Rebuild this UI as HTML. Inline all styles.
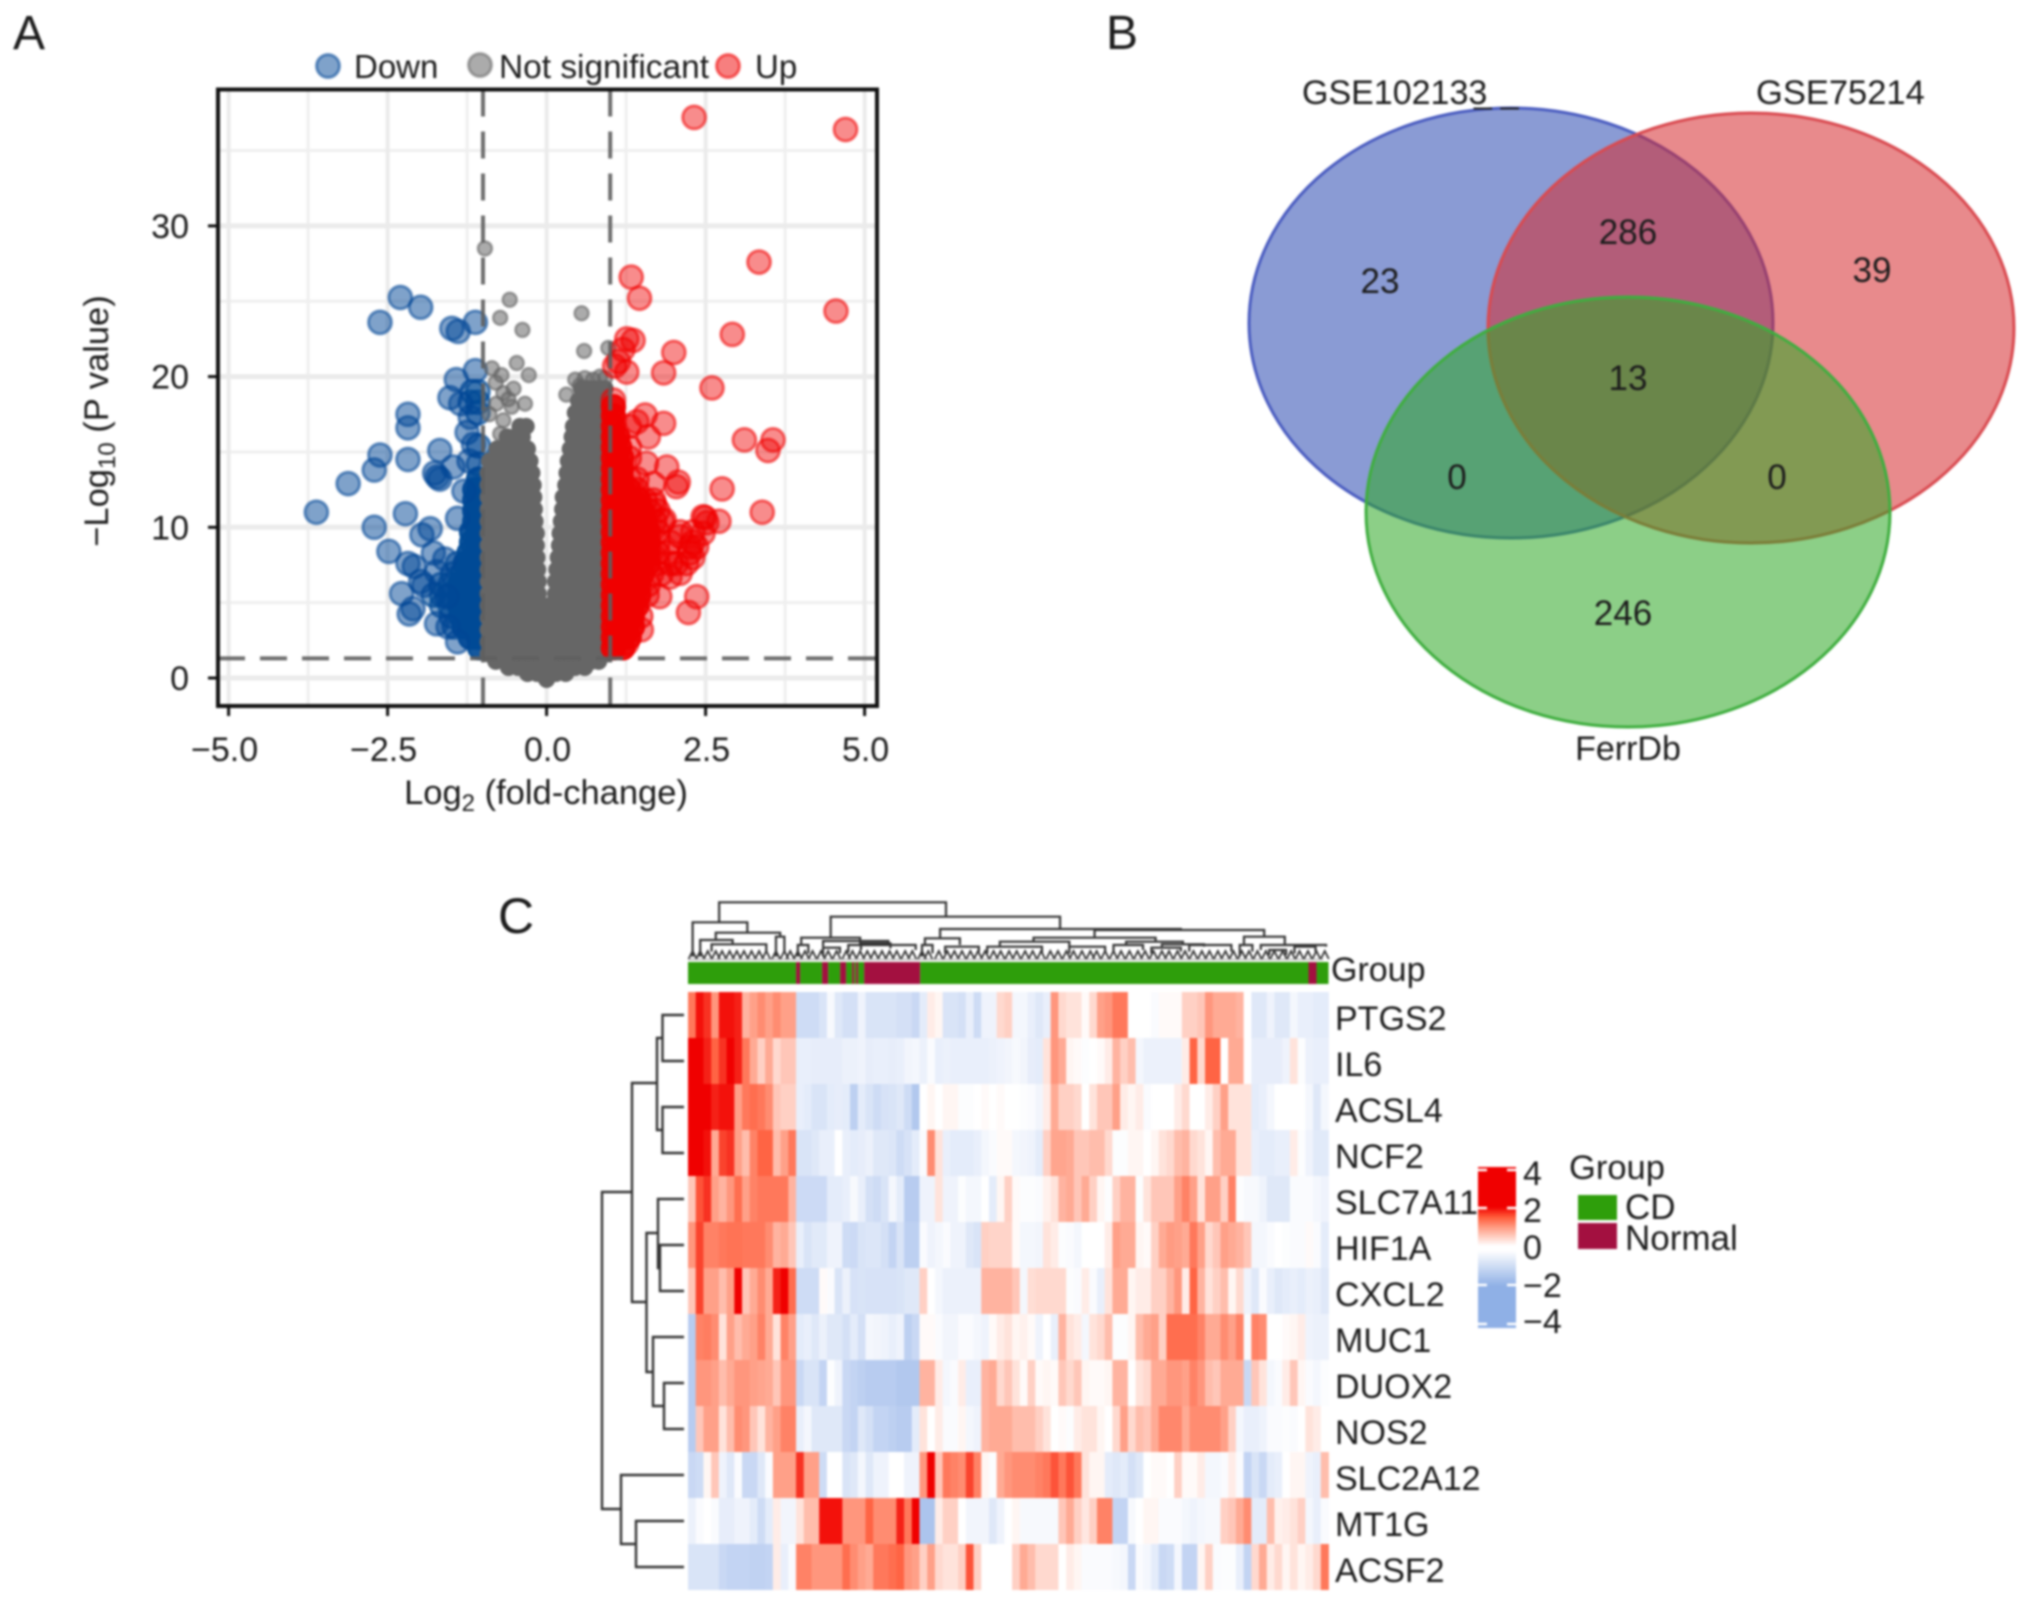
<!DOCTYPE html>
<html lang="en">
<head>
<meta charset="utf-8">
<title>Volcano plot, Venn diagram and heatmap</title>
<style>
html,body{margin:0;padding:0;background:#fff;width:2032px;height:1607px;overflow:hidden}
svg{display:block;filter:blur(1.1px)}
text{font-family:"Liberation Sans",sans-serif;fill:#1c1c1c}
</style>
</head>
<body>
<svg id="fig" xmlns="http://www.w3.org/2000/svg" width="2032" height="1607" viewBox="0 0 2032 1607">
<defs>
<linearGradient id="cbar" x1="0" y1="0" x2="0" y2="1">
<stop offset="0" stop-color="#f00000"/>
<stop offset="0.25" stop-color="#f00000"/>
<stop offset="0.31" stop-color="#ff5a38"/>
<stop offset="0.38" stop-color="#ffa088"/>
<stop offset="0.49" stop-color="#ffffff"/>
<stop offset="0.52" stop-color="#ffffff"/>
<stop offset="0.74" stop-color="#8fb0e6"/>
<stop offset="1" stop-color="#8fb0e6"/>
</linearGradient>
</defs>
<rect width="2032" height="1607" fill="#fff"/>

<text x="13" y="49" font-size="48">A</text>
<text x="1106" y="49" font-size="48">B</text>
<text x="498" y="933" font-size="50">C</text>

<g id="volcano"></g>

<g>
<circle cx="328" cy="66" r="11.5" fill="#004696" fill-opacity=".5" stroke="#004696" stroke-opacity=".55" stroke-width="3"/>
<text x="354" y="78" font-size="33">Down</text>
<circle cx="480" cy="65" r="11.5" fill="#666" fill-opacity=".55" stroke="#666" stroke-opacity=".55" stroke-width="3"/>
<text x="499" y="78" font-size="33" textLength="210" lengthAdjust="spacingAndGlyphs">Not significant</text>
<circle cx="728" cy="66" r="11.5" fill="#f00000" fill-opacity=".5" stroke="#f00000" stroke-opacity=".55" stroke-width="3"/>
<text x="755" y="78" font-size="33">Up</text>
</g>

<text x="546" y="804" font-size="34.5" text-anchor="middle">Log<tspan font-size="24" dy="7">2</tspan><tspan dy="-7"> (fold-change)</tspan></text>
<text transform="translate(108,421) rotate(-90)" font-size="34.5" text-anchor="middle">−Log<tspan font-size="24" dy="7">10</tspan><tspan dy="-7"> (P value)</tspan></text>

<g>
<text x="1302" y="104" font-size="34">GSE102133</text>
<text x="1756" y="104" font-size="34.5">GSE75214</text>
<ellipse cx="1511" cy="323" rx="262" ry="215" fill="#2a49b1" fill-opacity=".55" stroke="#4a5cc0" stroke-width="3"/>
<ellipse cx="1751" cy="328" rx="263" ry="215" fill="#d52a2e" fill-opacity=".55" stroke="#d94a50" stroke-width="3"/>
<ellipse cx="1628" cy="512" rx="262" ry="215" fill="#2ea725" fill-opacity=".55" stroke="#3fae3f" stroke-width="3"/>
<text x="1474" y="103" font-size="32">_ _</text>
<text x="1628" y="760" font-size="34" text-anchor="middle">FerrDb</text>
<text x="1380" y="293" font-size="35" text-anchor="middle">23</text>
<text x="1628" y="244" font-size="35" text-anchor="middle">286</text>
<text x="1872" y="282" font-size="35" text-anchor="middle">39</text>
<text x="1628" y="390" font-size="35" text-anchor="middle">13</text>
<text x="1457" y="489" font-size="35" text-anchor="middle">0</text>
<text x="1777" y="489" font-size="35" text-anchor="middle">0</text>
<text x="1623" y="625" font-size="35" text-anchor="middle">246</text>
</g>

<g id="heatmap"></g>

<text x="1331" y="981" font-size="34">Group</text>

<g>
<rect x="1478" y="1167" width="38" height="161" fill="url(#cbar)"/>
<g stroke="#fff" stroke-width="2.5">
<path d="M1478 1170h9M1507 1170h9"/>
<path d="M1478 1208h9M1507 1208h9"/>
<path d="M1478 1285h9M1507 1285h9"/>
<path d="M1478 1324h9M1507 1324h9"/>
</g>
<text x="1523" y="1185" font-size="34">4</text>
<text x="1523" y="1222" font-size="34">2</text>
<text x="1523" y="1259" font-size="34">0</text>
<text x="1523" y="1297" font-size="34">−2</text>
<text x="1523" y="1333" font-size="34">−4</text>
</g>

<g>
<text x="1569" y="1179" font-size="34.5">Group</text>
<rect x="1578" y="1195" width="39" height="25" fill="#2e9e0b"/>
<text x="1625" y="1219" font-size="35">CD</text>
<rect x="1578" y="1223" width="39" height="26" fill="#a31040"/>
<text x="1625" y="1250" font-size="35">Normal</text>
</g>
</svg>

<script>
/* ---------- Panel A: volcano data (log2FC, -log10 P) ---------- */
const xTickValues = [-5, -2.5, 0, 2.5, 5];
const xTickLabels = ['−5.0', '−2.5', '0.0', '2.5', '5.0'];
const xMinorGrid = [-3.75, -1.25, 1.25, 3.75];
const yTickValues = [0, 10, 20, 30];
const yTickLabels = ['0', '10', '20', '30'];
const yMinorGrid = [5, 15, 25, 35];
const foldThresholds = [-1, 1];
const pThreshold = 1.3;

const downPoints = [[-3.62,11],[-3.12,12.9],[-2.71,10],[-2.71,13.8],[-2.62,14.8],[-2.62,23.6],[-2.3,25.25],[-1.98,24.6],[-2.18,17.5],[-2.18,16.6],[-2.18,14.5],[-2.48,8.4],[-2.22,10.9],[-1.96,9.5],[-1.83,9.9],[-2.08,7.4],[-2.18,7.6],[-2.28,5.6],[-2.1,4.6],[-2.16,4.25],[-1.68,15.1],[-1.76,13.6],[-1.68,13.2],[-1.72,13.35],[-1.49,23.2],[-1.39,23],[-1.12,23.6],[-1.42,19.8],[-1.12,20.4],[-1.52,18.6],[-1.22,14.4],[-1.47,14],[-1.78,8.3],[-1.73,7.05],[-1.93,6.15],[-1.73,3.6],[-1.57,5.4],[-1.98,6.4],[-1.35,18.2],[-1.2,17.3],[-1.25,16.3],[-1.15,15.5],[-1.4,10.6],[-1.6,7.9],[-1.3,12.4],[-1.55,3.4],[-1.4,2.4]];
const downMidRows = [
[3.4,[-1.45]],[4.1,[-1.5]],[4.8,[-1.52,-1.65]],[5.5,[-1.52,-1.65,-1.78]],[6.2,[-1.52,-1.66]],[6.9,[-1.48]],[7.6,[-1.4]],
[14.2,[-1.07]],[15.4,[-1.07]],[17.6,[-1.08]],[18.3,[-1.08,-1.2]],[19,[-1.08,-1.17]]];
const downDenseRows = [
[2,[-1.05]],[2.7,[-1.07,-1.2]],[3.4,[-1.07,-1.22,-1.3]],[4.1,[-1.07,-1.22,-1.35]],
[4.8,[-1.07,-1.22,-1.37]],[5.5,[-1.07,-1.22,-1.37]],[6.2,[-1.07,-1.22,-1.37]],[6.9,[-1.07,-1.22,-1.33]],
[7.6,[-1.07,-1.22,-1.28]],[8.3,[-1.07,-1.22]],[9,[-1.07,-1.18]],[9.7,[-1.07,-1.18]],[10.4,[-1.07,-1.13]],
[11.1,[-1.07,-1.13]],[11.8,[-1.07,-1.13]],[12.5,[-1.07,-1.13]],[13.2,[-1.07]]];

const greyPoints = [[-.58,25.1],[-.73,23.9],[-.38,23.1],[.55,24.2],[.59,21.7],[.97,21.9],[-.47,20.9],[-.28,20.1],[-.86,20.55],[-.71,20.1],[-.52,19.2],[-.34,18.2],[-.55,18],[-.68,18.9],[-.79,18.2],[-.68,17.1],[-.73,16.2],[.31,18.8],[.45,19.8],[.6,19.9],[.84,20],[.73,19.8],[-.97,28.5],[-.8,19.6],[-.6,18.5],[-.9,17.5],[.92,19.9],[.52,19.4]];
const greyDenseRows = [
[-.1,[0]],[.3,[-.3,-.15,0,.15,.3]],[.7,[-.6,-.45,-.3,-.15,0,.15,.3,.45,.6]],
[1.1,[-.8,-.65,-.5,-.35,-.2,-.05,.1,.25,.4,.55,.7,.82]],
[1.6,[-.92,-.76,-.6,-.44,-.28,-.12,.04,.2,.36,.52,.68,.84,.94]],
[2.4,[-.92,-.76,-.6,-.44,-.28,-.12,.04,.2,.36,.52,.68,.84,.94]],
[3.2,[-.92,-.76,-.6,-.44,-.28,-.12,.04,.2,.36,.52,.68,.84,.94]],
[4,[-.92,-.76,-.6,-.44,-.28,-.12,.04,.2,.36,.52,.68,.84,.94]],
[4.8,[-.92,-.76,-.6,-.44,-.28,-.12,.04,.2,.36,.52,.68,.84,.94]],
[5.6,[-.92,-.76,-.6,-.44,-.28,-.13,.14,.28,.44,.6,.76,.92]],
[6.4,[-.92,-.76,-.6,-.44,-.28,-.13,.14,.28,.44,.6,.76,.92]],
[7.2,[-.92,-.76,-.6,-.44,-.29,-.14,.16,.3,.44,.6,.76,.92]],
[8,[-.92,-.76,-.6,-.44,-.3,-.15,.18,.32,.46,.6,.76,.92]],
[8.8,[-.92,-.76,-.6,-.46,-.31,-.16,.2,.34,.48,.62,.76,.92]],
[9.6,[-.92,-.76,-.6,-.46,-.31,-.16,.21,.35,.49,.63,.78,.92]],
[10.4,[-.92,-.76,-.62,-.47,-.32,-.18,.23,.37,.5,.64,.78,.92]],
[11.2,[-.92,-.77,-.62,-.48,-.33,-.19,.25,.38,.52,.66,.8,.92]],
[12,[-.92,-.78,-.63,-.49,-.34,-.2,.26,.4,.54,.68,.82,.92]],
[12.8,[-.92,-.78,-.64,-.5,-.35,-.21,.3,.43,.56,.69,.82,.92]],
[13.6,[-.92,-.78,-.64,-.5,-.36,-.23,.32,.45,.58,.7,.83,.93]],
[14.4,[-.9,-.76,-.64,-.5,-.38,-.26,.34,.47,.6,.72,.84,.93]],
[15.2,[-.78,-.64,-.52,-.4,-.3,.37,.5,.62,.74,.85,.93]],
[16,[-.62,-.5,-.38,.4,.52,.64,.75,.85,.93]],
[16.7,[-.42,-.32,.42,.54,.66,.78,.88]],
[17.6,[.45,.56,.68,.8,.9]],[18.4,[.5,.6,.7,.8,.9]],[19.2,[.55,.64,.74,.84,.92]]];

const upPoints = [[2.32,37.2],[4.7,36.4],[3.34,27.6],[1.33,26.6],[1.46,25.2],[4.55,24.35],[2.92,22.8],[2,21.6],[1.84,20.25],[2.6,19.25],[1.84,16.9],[3.11,15.8],[3.56,15.8],[3.48,15.1],[2.76,12.55],[3.39,11],[2.71,10.4],[2.49,10.65],[2.36,5.4],[2.23,4.35],[1.26,22.5],[1.36,22.4],[1.2,21.8],[1.13,21],[1.07,20.7],[1.26,20.3],[1.05,18.45],[1.55,17.45],[1.42,17],[1.57,14.25],[1.89,14],[2.07,13],[2.04,12.7],[1.68,12.9],[2.46,10.7],[2.52,10.3],[2.1,9.4],[2.25,8.7],[2.3,8],[2.04,7.6],[2.36,8.7],[2.46,9.6],[2.1,6.95],[1.94,6.7],[1.78,5.4],[1.49,3.2],[1.26,2.3],[1.6,16],[1.3,16.7],[1.7,11.5],[1.85,10.5]];
const upMidRows = [
[4.1,[1.48]],[5.5,[1.58]],[6.2,[1.6]],[6.9,[1.65,1.8]],[7.6,[1.75,1.95,2.2]],[8.3,[1.75,1.9,2.25]],
[9,[1.75,1.95,2.3]],[9.7,[1.75,2.1,2.3]],[10.4,[1.7,1.82]],[11.1,[1.62,1.75]],[11.8,[1.55,1.68]],
[12.5,[1.42]],[13.2,[1.3,1.42]],[14.6,[1.3]],[15.3,[1.3]]];
const upDenseRows = [
[2,[1.05,1.2]],[2.7,[1.05,1.2,1.3]],[3.4,[1.05,1.2,1.35]],[4.1,[1.05,1.2,1.35]],[4.8,[1.05,1.2,1.35,1.42]],
[5.5,[1.05,1.2,1.35,1.45]],[6.2,[1.05,1.2,1.35,1.45]],[6.9,[1.05,1.2,1.35,1.5]],[7.6,[1.05,1.2,1.35,1.5,1.6]],
[8.3,[1.05,1.2,1.35,1.5,1.6]],[9,[1.05,1.2,1.35,1.5,1.6]],[9.7,[1.05,1.2,1.35,1.5,1.6]],[10.4,[1.05,1.2,1.35,1.5,1.55]],
[11.1,[1.05,1.2,1.35,1.5]],[11.8,[1.05,1.2,1.35,1.45]],[12.5,[1.05,1.2,1.3]],[13.2,[1.05,1.18]],[13.9,[1.05,1.18]],
[14.6,[1.05,1.18]],[15.3,[1.05,1.15]],[16,[1.05,1.12]],[16.7,[1.05]],[17.4,[1.05]],[18,[1.05]]];

/* ---------- Panel C: heatmap data ---------- */
const geneNames = ['PTGS2','IL6','ACSL4','NCF2','SLC7A11','HIF1A','CXCL2','MUC1','DUOX2','NOS2','SLC2A12','MT1G','ACSF2'];
const exprPTGS2 = [1.4,2.1,1.9,1.1,2.1,2.1,2,.8,1,1.2,1,1.2,1,1,-.9,-.9,-.9,-.7,-.15,-.6,-.8,-.8,-.3,-.7,-.7,-.7,-.7,-.8,-.8,-1,-.5,.2,.1,-.7,-.7,-.8,-.4,-.9,-.3,-.3,.4,.5,-.2,-.2,-.4,-.6,-.4,1.1,.4,.3,.3,.05,.4,1,1.1,1.4,1.4,0,0,0,-.1,.05,.05,.05,.5,.5,.6,1.1,.9,.9,.9,.8,0,-.6,-.6,-.3,-.6,-.6,-.2,-.4,-.4,-.5,-.5];
const exprIL6 = [2.2,2.2,2,1.6,1.9,2.2,2,1.4,.9,.5,.9,.4,.6,.6,-.4,-.4,-.45,-.45,-.45,-.45,-.35,-.35,-.3,-.45,-.4,-.4,-.45,-.4,-.25,-.2,-.35,-.1,-.4,-.35,-.4,-.4,-.4,-.4,-.4,-.35,-.3,-.25,-.15,-.25,-.45,-.5,.3,1.1,.9,.1,.05,-.05,0,.05,.2,.8,.5,.7,-.2,-.35,-.35,-.35,-.35,-.35,.2,1.6,.4,1.6,1.6,0,.9,.9,0,-.45,-.45,-.45,-.45,-.3,.3,-.05,-.35,-.4,-.4];
const exprACSL4 = [2.2,2.2,2.2,2,2.1,2.1,1,1.4,1.5,1.4,1.2,.6,.5,.5,-.4,-.5,-.7,-.7,-.5,-.45,-.5,-1.2,-.5,-.7,-.9,-.75,-.7,-.6,-.9,-1.4,0,.1,0,.1,.1,-.05,-.05,0,.05,0,.05,0,0,-.05,-.1,-.25,.2,.9,.5,.5,.4,0,.3,.6,.6,1,.2,.1,.2,-.1,0,0,0,.2,.4,0,0,.2,.5,1,.3,.3,.3,-.5,-.4,-.2,0,0,0,0,-.2,-.6,-.2];
const exprNCF2 = [2.2,2.2,2.1,.9,1.8,1.9,1,.7,1.3,1.6,1.6,.7,1,1.4,-.7,-.7,-.6,-.4,-.4,0,-.4,-.5,-.45,-.35,-.6,-.6,-.65,-.9,-.75,-.5,-.1,1.2,.3,-.4,-.5,-.5,-.5,-.4,-.2,-.1,.05,.05,-.2,-.25,-.3,-.5,.5,.95,.95,.9,.6,.6,.7,.7,.4,-.05,-.05,.1,.1,0,.1,.3,.4,.7,.8,.4,.3,.1,.7,.9,.9,.3,.3,-.4,-.5,-.5,-.4,-.4,.2,-.05,-.3,-.55,-.55];
const exprSLC7A11 = [.6,1.7,1.9,1,.8,1.1,1.5,1,1.3,1.4,1.4,1.4,1.4,.8,-.95,-.95,-.95,-.95,-.5,-.5,-.4,-.15,-.4,-.8,-.9,-.7,-.2,-.5,-1.3,-1.3,-.3,-.3,.3,-.3,-.3,-.05,-.2,-.2,0,-.5,.1,.5,.05,-.05,-.05,-.1,.15,.3,.8,.9,.6,.9,.5,.1,-.05,.5,.8,.8,-.05,.3,.6,.6,.6,1,1.3,1,.3,1,1,.5,1.3,-.05,-.15,-.15,-.3,-.6,-.6,-.6,-.1,-.1,-.1,-.2,-.3];
const exprHIF1A = [1.1,1.8,1.3,1.3,1.4,1.45,1.45,1.4,1.4,1.4,1.2,.8,.9,.6,-.4,-.7,-.55,-.55,-.3,-.3,-.9,-.95,-.7,-.65,-.65,-.8,-1.1,-.7,-1.2,-1.2,-.1,-.3,-.2,-.1,-.3,-.3,-.6,-.7,.5,.45,.45,.45,.05,-.2,-.2,-.25,.3,.2,-.05,-.1,-.2,0,0,0,.2,1,.9,.9,.1,.05,.5,.9,1.05,1,.9,1.4,1,.4,.6,1,.9,.8,.6,-.2,-.2,-.1,0,-.05,-.1,-.1,.05,-.1,-.5];
const exprCXCL2 = [.6,1.8,1,1,.7,1,2.2,.6,.9,1.2,.9,2,2.2,1.5,-.9,-.9,-.9,.05,-.1,-.7,-.35,-.75,-.7,-.75,-.75,-.75,-.75,-.7,-.6,-.6,.5,0,-.2,-.35,-.35,-.35,-.35,-.35,.8,.8,.8,.8,.6,-.2,.35,.4,.4,.4,.4,-.05,-.1,.2,-.1,-.4,.3,.9,.9,.1,.2,.2,.5,.5,.8,1.1,.2,1.6,.8,.3,.5,.7,.1,.4,-.3,-.6,-.1,-.4,-.6,-.5,-.4,-.5,-.35,-.4,-.6];
const exprMUC1 = [-1.3,1.3,1.35,1.2,.3,1,.7,.9,1,1.3,.9,.3,1.3,1,-.5,-.4,-.6,-.35,-.6,-.6,-.8,-.5,-.8,-.2,-.25,-.3,-.4,-.3,-1.2,-1,.05,.05,-.1,-.25,-.25,-.1,-.1,-.2,-.3,.05,.2,.3,.1,.15,.05,-.3,0,-.4,.8,.3,.2,-.2,.3,.4,.7,-.05,-.05,.1,.7,.9,1,.5,1.5,1.5,1.5,1.5,1.3,.9,.9,1.2,1,1.3,-.1,1.3,1.2,0,0,.05,.1,.2,-.3,-.35,-.35];
const exprDUOX2 = [-1.3,1.1,1.1,1,.7,.9,1.1,1.1,1,.95,.9,.6,1.1,1.1,-1,-.7,-.7,-1.1,-.05,-.3,-1,-1.1,-1.2,-1.3,-1.3,-1.3,-1.3,-1.4,-1.4,-1.4,.8,.8,.2,-.2,-.1,.2,-.4,-.4,.8,.9,.4,.6,.3,.05,.5,.05,.1,.05,.6,.4,.6,.1,.05,.05,.1,.8,.8,0,.3,.4,.9,.9,1.1,1.1,1,1.3,1.1,.7,.6,.9,.9,.9,-1,.6,.3,-.2,-.1,.2,.6,.1,-.1,-.2,-.05];
const exprNOS2 = [-1.3,.6,1,1,.3,.7,1.2,1.1,.6,.3,.8,1,1.3,1.3,-.4,-.2,-.6,-.6,-.6,-.6,-1,-1.1,-.6,-.8,-1.1,-1.1,-1.2,-1.3,-1.3,-.5,.3,0,.2,-.1,-.1,.1,-.2,-.3,.8,.9,.9,.9,.7,.7,.7,.5,.3,0,.05,-.05,.2,.3,.3,.1,0,.4,1,.4,.7,.6,.9,1.25,1.25,1.25,.9,1.2,1.2,1.2,1.2,1,.5,-.2,-.4,-.4,-.3,-.1,-.1,-.05,-.1,0,.3,.2,0];
const exprSLC2A12 = [-1,-.9,.1,.6,-.3,-.6,-.1,-1,-1,-.6,-.1,1,1,1,1.9,1,1,-.9,0,0,-.7,-.6,-.2,-.6,-.3,-.3,0,0,-.3,-.3,1.1,2.2,.6,1.4,1.3,1.2,1.8,1.3,.1,-.05,.9,1.1,1.2,1.2,1.2,1.3,1.4,1.7,1.4,1.7,1.4,.3,.1,.1,-.5,-.6,-.5,-.8,-.6,0,.05,.05,0,.5,.05,.05,.2,-.2,-.2,-.1,.2,-.1,-1.1,-.7,-1,-.5,-.4,0,.1,.1,-.3,-.4,.7];
const exprMT1G = [-.35,-.1,0,-.1,-.45,-.45,-.3,-.3,-.5,-.9,-.5,.2,-.25,-.25,.3,.7,.7,2.1,2.1,2.1,1.1,1.1,1.1,1.6,1.2,1.2,1.2,2,1.4,2.2,-1.5,-1.5,.2,.5,.5,0,-.25,-.25,-.25,-.6,-.3,0,.1,-.15,-.15,-.15,-.15,-.15,.6,.9,.5,.25,.5,1.3,1.3,-1.1,-1.1,-.15,0,.1,.1,-.1,-.1,-.1,-.2,-.3,-.2,-.15,-.15,.5,.6,.9,1.2,-.5,-.5,.7,.15,.2,.3,.5,-.2,-.4,-.1];
const exprACSF2 = [-.7,-.7,-.7,-.7,-1,-1.1,-1.1,-1.1,-1.15,-1.15,-1.1,.2,-.4,-.1,1.3,1.3,1.1,1.1,1.1,1.1,1.5,1.2,1,.9,1.4,1.4,1.5,1.6,1.1,1,.5,1,.4,.3,.3,.5,1.7,.5,0,0,0,0,.5,.9,.7,.4,.4,.4,0,.2,.1,-.1,-.1,-.1,-.1,-.15,-.2,-1,-.1,-.2,-.5,-1,-.9,-.2,-1.1,-1.1,.1,.5,-.1,-.05,-.05,-.4,-1.1,.4,.9,.2,.4,.1,.3,.1,.2,.4,1.4];
const geneExpression = [exprPTGS2,exprIL6,exprACSL4,exprNCF2,exprSLC7A11,exprHIF1A,exprCXCL2,exprMUC1,exprDUOX2,exprNOS2,exprSLC2A12,exprMT1G,exprACSF2];
/* annotation run lengths across the samples: group label and sample count */
const groupRunLabels = ['CD','Normal','CD','Normal','CD','Normal','CD','Normal','CD','Normal','CD','Normal','CD','Normal','CD'];
const groupRunCounts = [54,2,11,3,6,3,3,1,1,1,3,28,194,4,6];

const SVG_NS = 'http://www.w3.org/2000/svg';
const volcano = document.getElementById('volcano');
const heatmap = document.getElementById('heatmap');

function make(tag, parent, attrs) {
  const el = document.createElementNS(SVG_NS, tag);
  for (const k in attrs) el.setAttribute(k, attrs[k]);
  parent.appendChild(el);
  return el;
}
/* volcano axis functions */
function xScale(v) { return 546.6 + v * 63.6; }
function yScale(v) { return 678 - v * 15.07; }

const plotLeft = 218, plotRight = 877, plotTop = 89.5, plotBottom = 706;

[...xMinorGrid].forEach(function (v) {
  const el = make('line', volcano, {x1: xScale(v), x2: xScale(v), y1: plotTop, y2: plotBottom, stroke: '#efefef', 'stroke-width': 3});
  
  
});
yMinorGrid.forEach(function (v) {
  const el = make('line', volcano, {x1: plotLeft, x2: plotRight, y1: yScale(v), y2: yScale(v), stroke: '#efefef', 'stroke-width': 3});
  
  
});
xTickValues.forEach(function (v) {
  const el = make('line', volcano, {x1: xScale(v), x2: xScale(v), y1: plotTop, y2: plotBottom, stroke: '#ebebeb', 'stroke-width': 4});
  
  
});
yTickValues.forEach(function (v) {
  const el = make('line', volcano, {x1: plotLeft, x2: plotRight, y1: yScale(v), y2: yScale(v), stroke: '#ebebeb', 'stroke-width': 5});
  
  
});

function drawPoint(x, y, r, sw, color, fo, so, name) {
  const c = make('circle', volcano, {cx: xScale(x), cy: yScale(y), r: r, fill: color, 'fill-opacity': fo, stroke: color, 'stroke-opacity': so, 'stroke-width': sw});
  
  
}
downMidRows.forEach(function (row) { row[1].forEach(function (x) { drawPoint(x, row[0], 11.5, 3, '#004a96', .5, .65, 'down-point'); }); });
downDenseRows.forEach(function (row) { row[1].forEach(function (x) { drawPoint(x, row[0], 11.5, 2.5, '#004a96', .92, .9, 'down-point'); }); });
downPoints.forEach(function (p) { drawPoint(p[0], p[1], 11.5, 3, '#004696', .5, .55, 'down-point'); });
greyPoints.forEach(function (p) { drawPoint(p[0], p[1], 7, 2.5, '#666666', .55, .6, 'not-significant-point'); });
greyDenseRows.forEach(function (row) { row[1].forEach(function (x) { drawPoint(x, row[0], 8, 1, '#666666', 1, 1, 'not-significant-point'); }); });
upMidRows.forEach(function (row) { row[1].forEach(function (x) { drawPoint(x, row[0], 11.5, 3, '#f00000', .42, .6, 'up-point'); }); });
upDenseRows.forEach(function (row) { row[1].forEach(function (x) { drawPoint(x, row[0], 11.5, 2.5, '#f00000', .92, .9, 'up-point'); }); });
upPoints.forEach(function (p) { drawPoint(p[0], p[1], 11.5, 3, '#f00000', .45, .55, 'up-point'); });

foldThresholds.forEach(function (v) {
  const el = make('line', volcano, {x1: xScale(v), x2: xScale(v), y1: plotTop, y2: plotBottom, stroke: '#5f5f5f', 'stroke-width': 4, 'stroke-dasharray': '27 15', 'stroke-opacity': .9});
  
  
});
const pLine = make('line', volcano, {x1: plotLeft, x2: plotRight, y1: yScale(pThreshold), y2: yScale(pThreshold), stroke: '#5f5f5f', 'stroke-width': 4, 'stroke-dasharray': '27 15', 'stroke-opacity': .9});



const frame = make('rect', volcano, {x: plotLeft, y: plotTop, width: plotRight - plotLeft, height: plotBottom - plotTop, fill: 'none', stroke: '#111', 'stroke-width': 4});



xTickValues.forEach(function (v, i) {
  const t = make('line', volcano, {x1: xScale(v), x2: xScale(v), y1: plotBottom, y2: plotBottom + 10, stroke: '#111', 'stroke-width': 3});
  
  
  const l = make('text', volcano, {x: xScale(v) + (v < 0 ? -4 : 1), y: 761, 'font-size': 34, 'text-anchor': 'middle'});
  l.textContent = xTickLabels[i];
  
  
});
yTickValues.forEach(function (v, i) {
  const t = make('line', volcano, {x1: plotLeft - 10, x2: plotLeft, y1: yScale(v), y2: yScale(v), stroke: '#111', 'stroke-width': 3});
  
  
  const l = make('text', volcano, {x: 189, y: yScale(v) + 12, 'font-size': 34, 'text-anchor': 'end'});
  l.textContent = yTickLabels[i];
  
  
});

/* ---------- heatmap ---------- */
const heatLeft = 688, heatRight = 1328.5, heatTop = 992, rowH = 46;
const colW = (heatRight - heatLeft) / exprPTGS2.length;
function colX(i) { return heatLeft + i * colW; }
function rowY(i) { return heatTop + i * rowH; }
function mix(a, b, t) { return a.map(function (v, i) { return Math.round(v + (b[i] - v) * t); }); }
const posStops = [[0,[255,255,255]],[1,[255,160,136]],[1.6,[255,100,68]],[2.2,[240,0,0]]];
const negStops = [[0,[255,255,255]],[1,[201,216,244]],[2,[143,176,230]]];
function heatColor(v) {
  const stops = v >= 0 ? posStops : negStops;
  const a = Math.abs(v);
  for (let i = 1; i < stops.length; i++) {
    if (a <= stops[i][0]) {
      const c = mix(stops[i - 1][1], stops[i][1], (a - stops[i - 1][0]) / (stops[i][0] - stops[i - 1][0]));
      return 'rgb(' + c.join(',') + ')';
    }
  }
  return 'rgb(' + stops[stops.length - 1][1].join(',') + ')';
}
geneExpression.forEach(function (row, r) {
  row.forEach(function (v, c) {
    const cell = make('rect', heatmap, {x: colX(c), y: rowY(r), width: colW + .4, height: rowH, fill: heatColor(v)});
    
    
  });
  const lab = make('text', heatmap, {x: 1335, y: 1030 + r * 46, 'font-size': 34});
  lab.textContent = geneNames[r];
  
  
});

/* annotation bar */
const totalSamples = groupRunCounts.reduce(function (a, b) { return a + b; }, 0);
let sampleCursor = 0;
groupRunCounts.forEach(function (n, i) {
  const w = n / totalSamples * (heatRight - heatLeft);
  const x = heatLeft + sampleCursor / totalSamples * (heatRight - heatLeft);
  const seg = make('rect', heatmap, {x: x, y: 962, width: w, height: 22, fill: groupRunLabels[i] === 'CD' ? '#2e9e0b' : '#a31040'});
  
  
  sampleCursor += n;
});

/* row dendrogram: spine x, top y, bottom y, top arm end, bottom arm end */
const rowDendrogram = [[602,1192,1509,632,621],[632,1083,1302,657,646.5],[657,1038,1130,662.5,662.5],[662.5,1015,1061,684,684],[662.5,1107,1153,684,684],[646.5,1233,1372,658,653],[658,1199,1268,684,660],[660,1245,1291,684,684],[653,1337,1406,684,664],[664,1383,1429,684,684],[621,1475,1544,684,636],[636,1521,1567,684,684]];
rowDendrogram.forEach(function (b) {
  const p = make('path', heatmap, {d: 'M' + b[3] + ' ' + b[1] + 'H' + b[0] + 'V' + b[2] + 'H' + b[4], fill: 'none', stroke: '#333', 'stroke-width': 2.4});
  
  
});

/* column dendrogram: left end, right end, merge height, left drop, right drop (in tree units) */
const colDendrogram = [[93,632,22,80,65],[30,160,82,185,113],[85,238,113,135,125],[48,125,135,185,150],[75,205,148,170,170],[228,248,125,185,170],[358,903,65,130,100],[288,428,128,150,150],[280,305,150,185,175],[340,495,138,155,150],[400,560,150,172,165],[430,500,145,165,160],[340,380,158,185,175],[618,1190,102,130,105],[582,665,130,150,150],[575,600,150,185,175],[630,710,155,175,170],[985,1388,105,128,125],[840,1130,128,140,140],[760,925,140,155,155],[730,860,155,175,175],[925,1010,155,175,170],[1060,1195,140,150,150],[1030,1100,150,172,165],[1145,1245,148,155,155],[1120,1190,158,175,170],[1210,1310,150,170,170],[1340,1437,125,150,150],[1330,1360,150,185,170],[1380,1535,150,165,155],[1460,1510,155,175,170],[1400,1440,165,180,180]];
const colLeaves = [30,48,66,85,100,118,135,152,170,188,205,228,248,262,280,297,315,335,352,372,395,410,428,445,462,480,498,515,535,552,575,590,615,635,652,670,690,708,725,745,762,782,800,820,838,858,880,898,918,935,955,975,990,1010,1030,1048,1068,1088,1105,1125,1145,1162,1182,1200,1220,1240,1258,1278,1296,1315,1335,1352,1372,1392,1412,1432,1452,1472,1492,1512,1532];
function treeX(v) { return 680 + v / 2.376; }
function treeY(v) { return 895 + v / 3; }
colDendrogram.forEach(function (b) {
  const p = make('path', heatmap, {d: 'M' + treeX(b[0]) + ' ' + treeY(b[3]) + 'V' + treeY(b[2]) + 'H' + treeX(b[1]) + 'V' + treeY(b[4]), fill: 'none', stroke: '#333', 'stroke-width': 2.2});
  
  
});
colLeaves.forEach(function (v) {
  const p = make('path', heatmap, {d: 'M' + (treeX(v) - 4) + ' 959L' + treeX(v) + ' 951L' + (treeX(v) + 4) + ' 959', fill: 'none', stroke: '#333', 'stroke-width': 1.8});
  
  
});
const leafBase = make('line', heatmap, {x1: heatLeft, x2: heatRight - 5, y1: 959.5, y2: 959.5, stroke: '#aaa', 'stroke-width': 1.2});


</script>
</body>
</html>
